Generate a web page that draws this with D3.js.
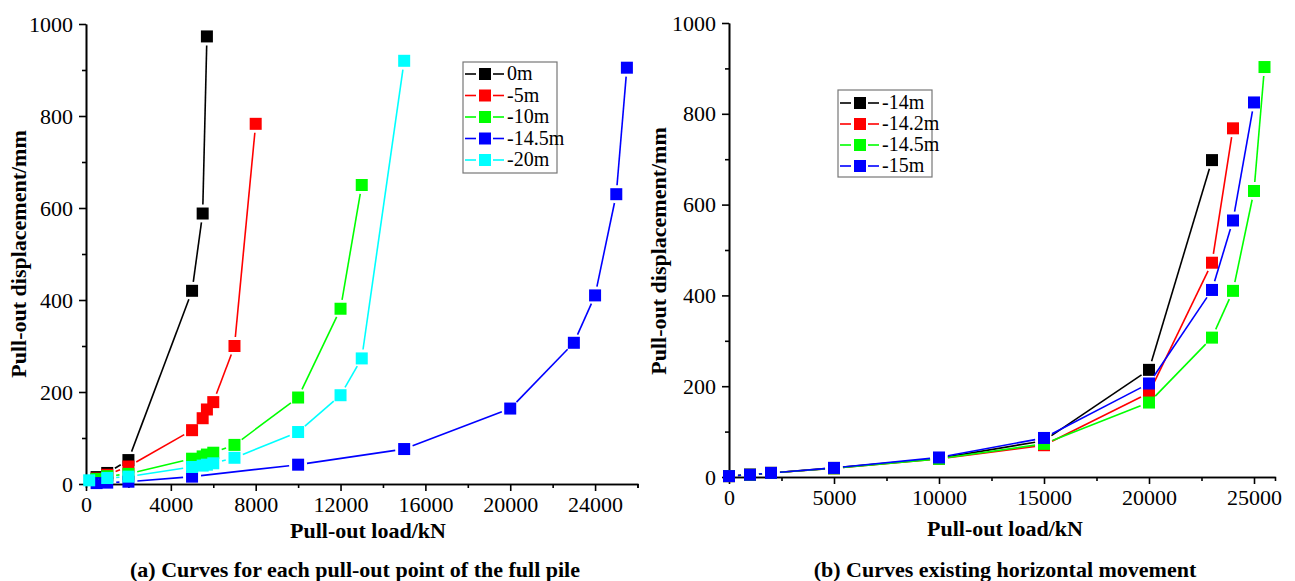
<!DOCTYPE html>
<html><head><meta charset="utf-8">
<script src="https://cdn.jsdelivr.net/npm/d3@7"></script>
<style>
body{margin:0;background:#fff;}
svg{display:block;font-family:"Liberation Serif",serif;}
svg text{font-family:"Liberation Serif",serif;}
</style></head>
<body><svg id="c" width="1295" height="581"></svg>
<script>
// ---------- DATA (a) ----------
const seriesNamesA = ["0m","-5m","-10m","-14.5m","-20m"];
const colorsA = ["#000000","#ff0000","#00ff00","#0000ff","#00ffff"];
const load0m   = [500,1000,2000,5000,5500,5700];
const disp0m   = [15,24,52,420,588,973];
const load5m   = [500,1000,2000,5000,5500,5700,6000,7000,8000];
const disp5m   = [12,20,38,117,143,162,178,300,783];
const load10m  = [500,1000,2000,5000,5500,5700,6000,7000,10000,12000,13000];
const disp10m  = [11,17,22,55,60,64,68,85,188,381,650];
const load145m = [500,1000,2000,5000,10000,15000,20000,23000,24000,25000,25500];
const disp145m = [2,3,5,16,42,76,164,307,410,630,905];
const load20m  = [150,1000,2000,5000,5500,5700,6000,7000,10000,12000,13000,15000];
const disp20m  = [8,13,16,37,40,42,45,57,113,193,273,920];
const xTicksA = [0,4000,8000,12000,16000,20000,24000];
const yTicks = [0,200,400,600,800,1000];

// ---------- DATA (b) ----------
const seriesNamesB = ["-14m","-14.2m","-14.5m","-15m"];
const colorsB = ["#000000","#ff0000","#00ff00","#0000ff"];
const load14m   = [0,1000,2000,5000,10000,15000,20000,23000];
const disp14m   = [2,5,9,20,41,80,236,698];
const load142m  = [0,1000,2000,5000,10000,15000,20000,23000,24000];
const disp142m  = [2,5,9,19,40,70,185,472,768];
const load145mB = [0,1000,2000,5000,10000,15000,20000,23000,24000,25000,25500];
const disp145mB = [2,5,9,19,40,73,164,307,410,630,903];
const load15m   = [0,1000,2000,5000,10000,15000,20000,23000,24000,25000];
const disp15m   = [2,5,9,20,43,86,206,412,565,825];
const xTicksB = [0,5000,10000,15000,20000,25000];

const FONT = "Liberation Serif";
const svg = d3.select("#c");
const MS = 12, GAP = 9;

function panel(cfg){
  const x = d3.scaleLinear().domain([0,26000]).range(cfg.xr);
  const y = d3.scaleLinear().domain([0,1000]).range(cfg.yr);
  const g = svg.append("g");
  const xMinor = d3.axisBottom(x).tickValues(cfg.xMinor).tickSize(4).tickSizeOuter(4).tickFormat("");
  const yMinor = d3.axisLeft(y).tickValues(d3.range(100,1000,200)).tickSize(4).tickSizeOuter(0).tickFormat("");
  const xMajor = d3.axisBottom(x).tickValues(cfg.xTicks).tickSize(7).tickSizeOuter(0).tickPadding(5).tickFormat(d3.format("d"));
  const yMajor = d3.axisLeft(y).tickValues(yTicks).tickSize(7).tickSizeOuter(0).tickPadding(6).tickFormat(d3.format("d"));
  [xMinor,xMajor].forEach(a=>g.append("g").attr("transform",`translate(0,${cfg.yr[0]})`).call(a));
  [yMinor,yMajor].forEach(a=>g.append("g").attr("transform",`translate(${cfg.xr[0]},0)`).call(a));
  g.selectAll(".domain,.tick line").attr("stroke","#000").attr("stroke-width",1.6);
  g.selectAll(".tick text").attr("fill","#000").attr("font-family",FONT).attr("font-size",22);
  cfg.series.forEach((s,i)=>{
    const pts = s.load.map((l,k)=>[x(l),y(s.disp[k])]);
    const sg = g.append("g");
    for(let k=0;k<pts.length-1;k++){
      const [x1,y1]=pts[k],[x2,y2]=pts[k+1];
      const dx=x2-x1, dy=y2-y1, L=Math.hypot(dx,dy);
      if(L<=2*GAP) continue;
      const ux=dx/L, uy=dy/L;
      sg.append("line").attr("x1",x1+ux*GAP).attr("y1",y1+uy*GAP)
        .attr("x2",x2-ux*GAP).attr("y2",y2-uy*GAP)
        .attr("stroke",cfg.colors[i]).attr("stroke-width",1.6);
    }
    sg.selectAll("rect").data(pts).enter().append("rect")
      .attr("x",d=>d[0]-MS/2).attr("y",d=>d[1]-MS/2).attr("width",MS).attr("height",MS)
      .attr("fill",cfg.colors[i]);
  });
  const lg = g.append("g");
  lg.append("rect").attr("x",cfg.leg[0]).attr("y",cfg.leg[1]).attr("width",cfg.leg[2]).attr("height",cfg.leg[3])
    .attr("fill","#fff").attr("stroke","#777").attr("stroke-width",1.2);
  cfg.names.forEach((n,i)=>{
    const cy = cfg.leg[1]+cfg.legTop+i*cfg.legStep, lx = cfg.leg[0]+2;
    lg.append("line").attr("x1",lx).attr("x2",lx+11).attr("y1",cy).attr("y2",cy).attr("stroke",cfg.colors[i]).attr("stroke-width",1.6);
    lg.append("line").attr("x1",lx+28).attr("x2",lx+39).attr("y1",cy).attr("y2",cy).attr("stroke",cfg.colors[i]).attr("stroke-width",1.6);
    lg.append("rect").attr("x",lx+14).attr("y",cy-6).attr("width",12).attr("height",12).attr("fill",cfg.colors[i]);
    lg.append("text").attr("x",lx+42).attr("y",cy+6).attr("font-size",20).attr("font-family",FONT).text(n);
  });
  g.append("text").attr("x",cfg.xt[0]).attr("y",cfg.xt[1]).attr("text-anchor","middle").attr("font-family",FONT)
    .attr("font-size",22).attr("font-weight","bold").text("Pull-out load/kN");
  g.append("text").attr("transform",`translate(${cfg.yt[0]},${cfg.yt[1]}) rotate(-90)`).attr("text-anchor","middle")
    .attr("font-family",FONT).attr("font-size",22).attr("font-weight","bold").text("Pull-out displacement/mm");
  g.append("text").attr("x",cfg.cap[0]).attr("y",cfg.cap[1]).attr("text-anchor","middle").attr("font-family",FONT)
    .attr("font-size",22).attr("font-weight","bold").text(cfg.caption);
}

panel({
  xr:[86,637.5], yr:[484,24], xTicks:xTicksA, xMinor:d3.range(2000,26001,4000),
  colors:colorsA, names:seriesNamesA,
  series:[{load:load0m,disp:disp0m},{load:load5m,disp:disp5m},{load:load10m,disp:disp10m},
          {load:load145m,disp:disp145m},{load:load20m,disp:disp20m}],
  leg:[463,62,94,111], legTop:12, legStep:21.5,
  xt:[368,538], yt:[26,254], cap:[355,577],
  caption:"(a) Curves for each pull-out point of the full pile"
});
panel({
  xr:[729,1275], yr:[477,23], xTicks:xTicksB, xMinor:d3.range(2500,26000,5000),
  colors:colorsB, names:seriesNamesB,
  series:[{load:load14m,disp:disp14m},{load:load142m,disp:disp142m},{load:load145mB,disp:disp145mB},{load:load15m,disp:disp15m}],
  leg:[838,90,94,87], legTop:13, legStep:21,
  xt:[1005,536], yt:[666,251], cap:[1005,577],
  caption:"(b) Curves existing horizontal movement"
});
</script></body></html>
